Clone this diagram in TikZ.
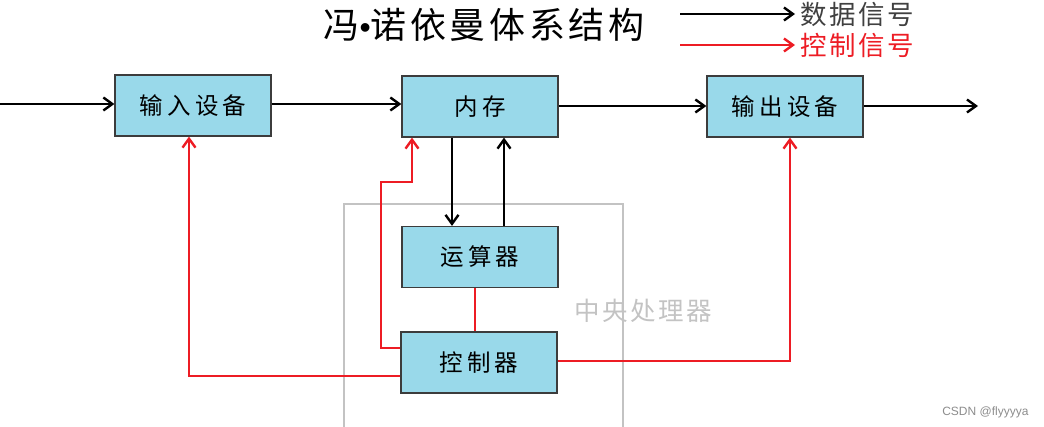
\documentclass[tikz,border=0pt]{standalone}
\usepackage{fontspec}
\setmainfont{Noto Sans CJK SC}
\newfontfamily\wmfont{Liberation Sans}
\newfontfamily\spA[LetterSpace=18]{Noto Sans CJK SC}
\newfontfamily\spB[LetterSpace=10]{Noto Sans CJK SC}
\usetikzlibrary{arrows.meta}
\definecolor{boxfill}{RGB}{153,217,234}
\definecolor{boxline}{RGB}{60,60,60}
\definecolor{sigred}{RGB}{237,28,36}
\definecolor{cpugray}{RGB}{195,195,195}
\begin{document}
\begin{tikzpicture}[x=1pt,y=-1pt,
  unit/.style={draw=boxline,fill=boxfill,line width=1.2pt,minimum width=156pt,minimum height=61pt,inner sep=0pt,font=\spA\fontsize{23.5}{23.5}\selectfont},
  dataline/.style={line width=2.6pt,black,-{Straight Barb[length=9pt,width=13pt,line width=2.4pt]}},
  ctrlline/.style={line width=2.6pt,sigred,-{Straight Barb[length=9pt,width=13pt,line width=2.4pt]}},
  ctrlplain/.style={line width=2.6pt,sigred}]
\useasboundingbox (0,0) rectangle (1044,427);
% CPU frame
\draw[cpugray,line width=2.4pt] (344,440) -- (344,204) -- (623,204) -- (623,440);
\node[text=cpugray,font=\spB\fontsize{25.5}{25.5}\selectfont] (cpulbl) at (643,311) {中央处理器};
% title and legend
\node[font=\spB\fontsize{36}{36}\selectfont] (title) at (484,25) {冯{\wmfont\fontsize{32}{32}\selectfont•}诺依曼体系结构};
\coordinate (lgA1) at (680,14);
\coordinate (lgA2) at (680,45);
\node[anchor=west,text=black!75,font=\spB\fontsize{26.5}{26.5}\selectfont,inner sep=0pt] (lgdata) at (800,14) {数据信号};
\node[anchor=west,text=sigred,font=\spB\fontsize{26.5}{26.5}\selectfont,inner sep=0pt] (lgctrl) at (800,45) {控制信号};
\draw[dataline] (lgA1) -- ([xshift=-5pt]lgdata.west);
\draw[ctrlline] (lgA2) -- ([xshift=-5pt]lgctrl.west);
% units
\node[unit] (in) at (193,105.5) {输入设备};
\node[unit] (mem) at (480,106.5) {内存};
\node[unit] (out) at (785,106.5) {输出设备};
\node[unit] (alu) at (480,257) {运算器};
\node[unit] (cu) at (479,362.5) {控制器};
% data paths
\coordinate (src) at (0,104);
\coordinate (snk) at (978,106);
\draw[dataline] (src) -- (in.west |- src);
\draw[dataline] (in.east |- 0,104) -- (mem.west |- 0,104);
\draw[dataline] (mem.east |- 0,106) -- (out.west |- 0,106);
\draw[dataline] (out.east |- snk) -- (snk);
\draw[dataline] (mem.south -| 452,0) -- (alu.north -| 452,0);
\draw[dataline] (alu.north -| 504,0) -- (mem.south -| 504,0);
% control paths
\draw[ctrlplain] (alu.south -| 475,0) -- (cu.north -| 475,0);
\draw[ctrlline] (cu.west |- 0,348) -- (381,348) -- (381,182) -- (412,182) -- (mem.south -| 412,0);
\draw[ctrlline] (cu.west |- 0,376) -- (189,376) -- (in.south -| 189,0);
\draw[ctrlline] (cu.east |- 0,361) -- (790,361) -- (out.south -| 790,0);
% watermark
\node[anchor=east,text=black!45,font=\wmfont\fontsize{12}{12}\selectfont] (wm) at (1032,412) {CSDN @flyyyya};
\end{tikzpicture}
\end{document}
